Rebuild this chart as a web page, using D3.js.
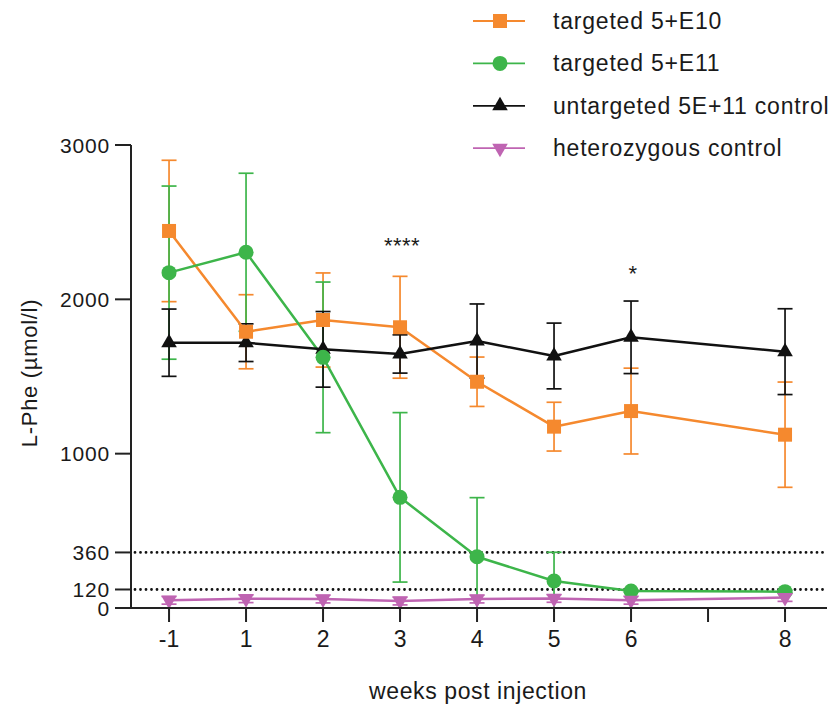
<!DOCTYPE html>
<html><head><meta charset="utf-8">
<script src="https://cdn.jsdelivr.net/npm/d3@7"></script>
<style>
body{margin:0;background:#fff}
text{font-family:Arial,"Liberation Sans",sans-serif;fill:#1a1a1a}
</style>
</head><body>
<svg id="chart" width="838" height="708"></svg>
<script>
// ---- data ----
const axisSlots = [-1, 1, 2, 3, 4, 5, 6, 7, 8];
const tickLabels = ["-1", "1", "2", "3", "4", "5", "6", "", "8"];
const weeks = [-1, 1, 2, 3, 4, 5, 6, 8];
const yTicks = [0, 120, 360, 1000, 2000, 3000];
const refLines = [120, 360];

const seriesNames = ["targeted 5+E10", "targeted 5+E11", "untargeted 5E+11 control", "heterozygous control"];
const seriesColors = ["#f5892e", "#3db54a", "#111111", "#bf64b2"];

const orangeMean = [2443, 1790, 1866, 1819, 1466, 1175, 1276, 1123];
const orangeSD   = [458, 240, 305, 330, 160, 158, 278, 341];
const greenMean  = [2173, 2305, 1624, 717, 332, 175, 110, 106];
const greenSD    = [561, 512, 488, 549, 383, 186, 8, 8];
const blackMean  = [1719, 1719, 1676, 1646, 1730, 1633, 1754, 1661];
const blackSD    = [218, 122, 245, 124, 240, 213, 235, 278];
const pinkMean   = [50, 60, 58, 45, 58, 62, 50, 68];
const pinkSD     = [25, 25, 25, 25, 25, 25, 25, 25];

const annotations = [{week: 3, text: "****", value: 2300}, {week: 6, text: "*", value: 2120}];

// ---- layout ----
const svg = d3.select("#chart");
const x = d3.scaleLinear().domain([-0.494, 8.545]).range([131, 827]);
const y = d3.scaleLinear().domain([0, 3000]).range([608, 145]);
const xs = w => x(axisSlots.indexOf(w));

const series = [
  {name: seriesNames[0], color: seriesColors[0], mean: orangeMean, sd: orangeSD, sym: d3.symbolSquare, size: 196, rot: 0},
  {name: seriesNames[1], color: seriesColors[1], mean: greenMean, sd: greenSD, sym: d3.symbolCircle, size: 177, rot: 0},
  {name: seriesNames[2], color: seriesColors[2], mean: blackMean, sd: blackSD, sym: d3.symbolTriangle, size: 105, rot: 0},
  {name: seriesNames[3], color: seriesColors[3], mean: pinkMean, sd: pinkSD, sym: d3.symbolTriangle, size: 105, rot: 180}
];

// reference dotted lines
svg.append("g").selectAll("line").data(refLines).join("line")
  .attr("x1", 135).attr("x2", 825)
  .attr("y1", d => y(d)).attr("y2", d => y(d))
  .attr("stroke", "#111").attr("stroke-width", 2.8)
  .attr("stroke-linecap", "round").attr("stroke-dasharray", "0,5.5");

// error bars
const capW = 7.5;
series.forEach(s => {
  const g = svg.append("g").attr("stroke", s.color).attr("stroke-width", 1.7).attr("fill", "none");
  weeks.forEach((w, i) => {
    const hi = y(s.mean[i] + s.sd[i]);
    const lo = y(Math.max(0, s.mean[i] - s.sd[i]));
    const cx = xs(w);
    g.append("line").attr("x1", cx).attr("x2", cx).attr("y1", hi).attr("y2", lo);
    g.append("line").attr("x1", cx - capW).attr("x2", cx + capW).attr("y1", hi).attr("y2", hi);
    g.append("line").attr("x1", cx - capW).attr("x2", cx + capW).attr("y1", lo).attr("y2", lo);
  });
});

// lines
const line = d3.line().x(d => xs(d.w)).y(d => y(d.v));
series.forEach(s => {
  svg.append("path")
    .datum(weeks.map((w, i) => ({w, v: s.mean[i]})))
    .attr("d", line).attr("fill", "none")
    .attr("stroke", s.color).attr("stroke-width", 2.5).attr("stroke-linejoin", "round");
});

// symbols: black, orange, green, pink
[2, 0, 1, 3].forEach(k => {
  const s = series[k];
  svg.append("g").selectAll("path").data(weeks).join("path")
    .attr("d", d3.symbol().type(s.sym).size(s.size))
    .attr("transform", (w, i) => `translate(${xs(w)},${y(s.mean[i])}) rotate(${s.rot})`)
    .attr("fill", s.color);
});

// axes
const axisColor = "#222";
svg.append("line").attr("x1", 131).attr("x2", 131).attr("y1", y(3000)).attr("y2", y(0) + 1)
  .attr("stroke", axisColor).attr("stroke-width", 2);
svg.append("line").attr("x1", 130).attr("x2", 827).attr("y1", y(0)).attr("y2", y(0))
  .attr("stroke", axisColor).attr("stroke-width", 2);

// y ticks
const yg = svg.append("g");
yTicks.forEach(t => {
  yg.append("line").attr("x1", 115).attr("x2", 131).attr("y1", y(t)).attr("y2", y(t))
    .attr("stroke", axisColor).attr("stroke-width", 2);
  yg.append("text").attr("x", 110).attr("y", y(t)).attr("dy", "0.36em")
    .attr("text-anchor", "end").attr("font-size", 21).attr("letter-spacing", 0.8).text(t);
});

// x ticks
const xg = svg.append("g");
axisSlots.forEach((w, i) => {
  xg.append("line").attr("x1", xs(w)).attr("x2", xs(w)).attr("y1", y(0)).attr("y2", y(0) + 14)
    .attr("stroke", axisColor).attr("stroke-width", 2);
  xg.append("text").attr("x", xs(w)).attr("y", 646.5).attr("text-anchor", "middle")
    .attr("font-size", 23).text(tickLabels[i]);
});

// axis titles
svg.append("text").attr("x", 478).attr("y", 699).attr("text-anchor", "middle")
  .attr("font-size", 23).attr("letter-spacing", 0.6).text("weeks post injection");
svg.append("text").attr("transform", "translate(37,373) rotate(-90)").attr("text-anchor", "middle")
  .attr("font-size", 22).attr("letter-spacing", 0.7).text("L-Phe (µmol/l)");

// annotations
annotations.forEach(a => {
  svg.append("text").attr("x", xs(a.week) + 2).attr("y", y(a.value))
    .attr("text-anchor", "middle").attr("font-size", 22).attr("letter-spacing", 0.5).text(a.text);
});

// legend
const lg = svg.append("g");
series.forEach((s, i) => {
  const ly = 21 + i * 42.4;
  lg.append("line").attr("x1", 473).attr("x2", 525).attr("y1", ly).attr("y2", ly)
    .attr("stroke", s.color).attr("stroke-width", 1.8);
  lg.append("path").attr("d", d3.symbol().type(s.sym).size(s.size))
    .attr("transform", `translate(500,${ly}) rotate(${s.rot})`).attr("fill", s.color);
  lg.append("text").attr("x", 553).attr("y", ly + 8).attr("font-size", 23)
    .attr("letter-spacing", 0.8).text(s.name);
});
</script>
</body></html>
